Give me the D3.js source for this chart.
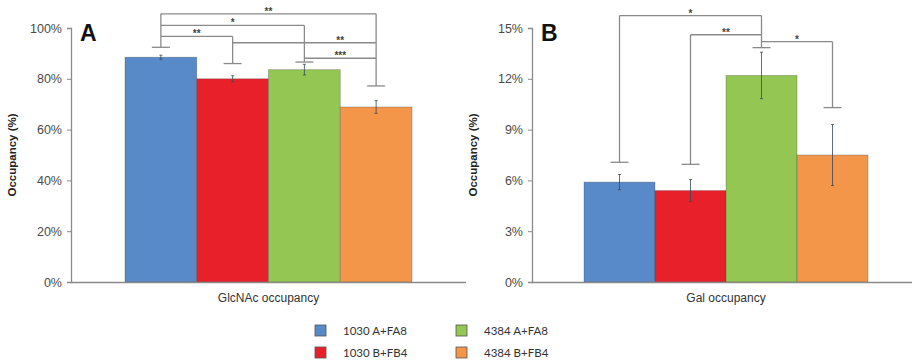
<!DOCTYPE html>
<html><head><meta charset="utf-8">
<script src="https://cdn.jsdelivr.net/npm/d3@7"></script>
<style>body{margin:0;background:#fff}svg{display:block}</style>
</head><body>
<svg id="c" width="912" height="360"></svg>
<script>
const groups = ["1030 A+FA8","1030 B+FB4","4384 A+FA8","4384 B+FB4"];
const colors = ["#5889c8","#e8202a","#93c652","#f39649"];
// Panel A (GlcNAc)
const glcValues = [88.5, 80.0, 83.6, 68.9];
const glcErrors = [0.8, 1.2, 2.1, 2.5];
const glcCaps = [92.4, 86.0, 86.6, 77.2];
const glcBrackets = [
  {from:0,to:3,level:105.6,label:"**",at:[0,3]},
  {from:0,to:2,level:101.0,label:"*",at:[0,2]},
  {from:0,to:1,level:96.7,label:"**",at:[0,1]},
  {from:1,to:3,level:94.2,label:"**",at:[2,3]},
  {from:2,to:3,level:88.1,label:"***",at:[2,3]}
];
const glcTicks = [0,20,40,60,80,100];
// Panel B (Gal)
const galValues = [5.9, 5.4, 12.2, 7.5];
const galErrors = [0.45, 0.65, 1.37, 1.8];
const galCaps = [7.07, 6.95, 13.84, 10.3];
const galBrackets = [
  {from:0,to:2,level:15.73,label:"*",at:[0,2]},
  {from:1,to:2,level:14.6,label:"**",at:[1,2]},
  {from:2,to:3,level:14.2,label:"*",at:[2,3]}
];
const galTicks = [0,3,6,9,12,15];

const svg = d3.select("#c");
const font = "Arial, 'Liberation Sans', sans-serif";

function panel(o){
  const g = svg.append("g");
  const y = d3.scaleLinear().domain([0,o.max]).range([282,28]);
  const x = d3.scaleBand().domain(groups).range([o.barL,o.barR]).padding(0);
  const xc = i => x(groups[i]) + x.bandwidth()/2;
  // y axis
  const ax = g.append("g").attr("transform",`translate(${o.axisX},0)`)
    .call(d3.axisLeft(y).tickValues(o.ticks).tickSize(4).tickPadding(5).tickFormat(d=>d+"%"));
  ax.select(".domain").attr("stroke","#8a8a8a").attr("stroke-width",1.3);
  ax.selectAll(".tick line").attr("stroke","#8a8a8a");
  ax.selectAll("text").attr("font-family",font).attr("font-size",12.5).attr("fill","#4a4a4a");
  // bars
  g.selectAll("rect.bar").data(o.values).join("rect")
    .attr("x",(d,i)=>x(groups[i])).attr("width",x.bandwidth())
    .attr("y",d=>y(d)).attr("height",d=>282-y(d))
    .attr("fill",(d,i)=>colors[i]).attr("stroke","rgba(60,60,60,0.35)").attr("stroke-width",0.8);
  // x axis line
  g.append("line").attr("x1",o.axisX).attr("x2",o.axisEnd).attr("y1",282.5).attr("y2",282.5)
    .attr("stroke","#8a8a8a").attr("stroke-width",1.3);
  // error bars
  o.values.forEach((v,i)=>{
    const e=o.errors[i], cx=xc(i);
    g.append("line").attr("x1",cx).attr("x2",cx).attr("y1",y(v+e)).attr("y2",y(v-e)).attr("stroke","#3a4a5a").attr("stroke-width",1).attr("opacity",0.8);
    [v+e,v-e].forEach(t=>g.append("line").attr("x1",cx-1.5).attr("x2",cx+1.5).attr("y1",y(t)).attr("y2",y(t)).attr("stroke","#3a4a5a").attr("opacity",0.8));
  });
  // significance caps and brackets
  const top = o.caps.map(()=>Infinity);
  o.brackets.forEach(b=>{ [b.from,b.to].forEach(k=>{ top[k]=Math.min(top[k],y(b.level)); }); });
  o.caps.forEach((c,i)=>{
    const cx=xc(i);
    g.append("line").attr("x1",cx-9).attr("x2",cx+9).attr("y1",y(c)).attr("y2",y(c)).attr("stroke","#8a8a8a").attr("stroke-width",1.3);
    if(top[i]<Infinity) g.append("line").attr("x1",cx).attr("x2",cx).attr("y1",y(c)).attr("y2",top[i]).attr("stroke","#8a8a8a").attr("stroke-width",1.3);
  });
  o.brackets.forEach(b=>{
    g.append("line").attr("x1",xc(b.from)).attr("x2",xc(b.to)).attr("y1",y(b.level)).attr("y2",y(b.level)).attr("stroke","#8a8a8a").attr("stroke-width",1.3);
    g.append("text").attr("x",(xc(b.at[0])+xc(b.at[1]))/2).attr("y",y(b.level)+1)
      .attr("text-anchor","middle").attr("font-family",font).attr("font-size",10).attr("font-weight","bold")
      .attr("fill","#444").text(b.label);
  });
  // panel letter
  g.append("text").attr("x",o.axisX+9).attr("y",41).attr("font-family",font).attr("font-size",23).attr("font-weight","bold").attr("fill","#111").text(o.letter);
  // y title
  g.append("text").attr("transform",`translate(${o.axisX-55},155) rotate(-90)`).attr("text-anchor","middle")
    .attr("font-family",font).attr("font-size",11.5).attr("font-weight","bold").attr("fill","#222").text("Occupancy (%)");
  // x label
  g.append("text").attr("x",(o.barL+o.barR)/2).attr("y",302).attr("text-anchor","middle")
    .attr("font-family",font).attr("font-size",12).attr("fill","#333").text(o.xlabel);
}

panel({letter:"A",max:100,ticks:glcTicks,values:glcValues,errors:glcErrors,caps:glcCaps,brackets:glcBrackets,
  axisX:71,axisEnd:466,barL:125,barR:412,xlabel:"GlcNAc occupancy"});
panel({letter:"B",max:15,ticks:galTicks,values:galValues,errors:galErrors,caps:galCaps,brackets:galBrackets,
  axisX:532,axisEnd:912,barL:584,barR:868,xlabel:"Gal occupancy"});

// legend
const leg = svg.append("g");
groups.forEach((name,i)=>{
  const col=Math.floor(i/2), row=i%2;
  const lx=315+col*141, ly=325+row*22;
  leg.append("rect").attr("x",lx).attr("y",ly).attr("width",11).attr("height",11)
    .attr("fill",colors[i]).attr("stroke","#555").attr("stroke-width",0.8);
  leg.append("text").attr("x",lx+28).attr("y",ly+10).attr("font-family","Lato, 'Open Sans', sans-serif")
    .attr("font-size",11.5).attr("fill","#333").text(name);
});
</script>
</body></html>
